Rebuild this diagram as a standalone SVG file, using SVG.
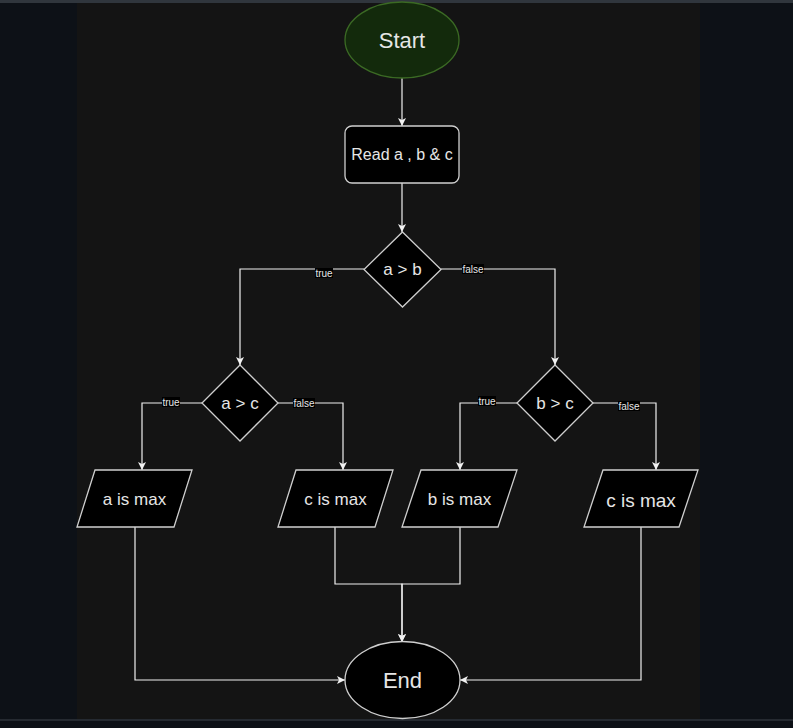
<svg xmlns="http://www.w3.org/2000/svg" width="793" height="728" viewBox="0 0 793 728">
<defs>
<marker id="arr" markerWidth="9" markerHeight="8" refX="8" refY="4" orient="auto" markerUnits="userSpaceOnUse">
<path d="M0,0 L8,4 L0,8 L2,4 Z" fill="#f2f2f2"/>
</marker>
<style>
.shape{fill:#000;stroke:#cfcfcf;stroke-width:1.3}
.t{font-family:"Liberation Sans",Arial,sans-serif;fill:#e6e6e6;text-anchor:middle;dominant-baseline:central}
.edge{fill:none;stroke:#f0f0f0;stroke-width:1.2}
.lbl{fill:#000}
.lt{font-family:"Liberation Sans",Arial,sans-serif;fill:#e6e6e6;text-anchor:middle;dominant-baseline:central;font-size:10px}
</style>
</defs>
<rect x="0" y="0" width="793" height="728" fill="#0d1117"/>
<rect x="0" y="0" width="793" height="3" fill="#30363d"/>
<rect x="77" y="3" width="623" height="716" fill="#141414"/>
<rect x="0" y="719" width="793" height="2" fill="#252a31"/>

<g id="connectors">
<path class="edge" d="M402,78 V126" marker-end="url(#arr)"/>
<path class="edge" d="M402,183 V232" marker-end="url(#arr)"/>
<path class="edge" d="M364,269 H240 V365" marker-end="url(#arr)"/>
<path class="edge" d="M441,269 H555 V365" marker-end="url(#arr)"/>
<path class="edge" d="M202,403 H142 V470" marker-end="url(#arr)"/>
<path class="edge" d="M278,403 H343 V470" marker-end="url(#arr)"/>
<path class="edge" d="M517,403 H460 V470" marker-end="url(#arr)"/>
<path class="edge" d="M593,403 H656 V470" marker-end="url(#arr)"/>
<path class="edge" d="M135,527 V680 H345" marker-end="url(#arr)"/>
<path class="edge" d="M335,527 V584 H402 V642" marker-end="url(#arr)"/>
<path class="edge" d="M460,527 V584 H402 V642" marker-end="url(#arr)"/>
<path class="edge" d="M641,527 V680 H460" marker-end="url(#arr)"/>
<rect class="lbl" x="315" y="268" width="18" height="10"/>
<text class="lt" x="324" y="273">true</text>
<rect class="lbl" x="462" y="264" width="22" height="10"/>
<text class="lt" x="473" y="269">false</text>
<rect class="lbl" x="162" y="397" width="18" height="10"/>
<text class="lt" x="171" y="402">true</text>
<rect class="lbl" x="293" y="398" width="22" height="10"/>
<text class="lt" x="304" y="403">false</text>
<rect class="lbl" x="478" y="396" width="18" height="10"/>
<text class="lt" x="487" y="401">true</text>
<rect class="lbl" x="618" y="401" width="22" height="10"/>
<text class="lt" x="629" y="406">false</text>
</g>

<g id="start">
<ellipse cx="402" cy="40" rx="57" ry="38" fill="#132a0c" stroke="#3b6a24" stroke-width="1.3"/>
<text class="t" x="402" y="40" font-size="22">Start</text>
</g>
<g id="read">
<rect class="shape" x="345" y="126" width="114" height="57" rx="7"/>
<text class="t" x="402" y="154" font-size="16">Read a , b &amp; c</text>
</g>
<g id="cond_ab">
<polygon class="shape" points="402.5,232 441,269.5 402.5,307 364,269.5"/>
<text class="t" x="402.5" y="269" font-size="17">a &gt; b</text>
</g>
<g id="cond_ac">
<polygon class="shape" points="240,365 278,403 240,441 202,403"/>
<text class="t" x="240" y="403" font-size="17">a &gt; c</text>
</g>
<g id="cond_bc">
<polygon class="shape" points="555,365 593,403 555,441 517,403"/>
<text class="t" x="555" y="403" font-size="17">b &gt; c</text>
</g>
<g id="a_max">
<polygon class="shape" points="95,470 192,470 174,527 77,527"/>
<text class="t" x="134.5" y="499" font-size="17">a is max</text>
</g>
<g id="c_max_left">
<polygon class="shape" points="296,470 393,470 375,527 278,527"/>
<text class="t" x="335.5" y="499" font-size="17">c is max</text>
</g>
<g id="b_max">
<polygon class="shape" points="421,470 517,470 498,527 402,527"/>
<text class="t" x="459.5" y="499" font-size="17">b is max</text>
</g>
<g id="c_max_right">
<polygon class="shape" points="603,470 698,470 679,527 584,527"/>
<text class="t" x="641" y="500" font-size="19">c is max</text>
</g>
<g id="end">
<ellipse class="shape" cx="402.5" cy="680" rx="57.5" ry="38.5"/>
<text class="t" x="402.5" y="680" font-size="22">End</text>
</g>
</svg>
